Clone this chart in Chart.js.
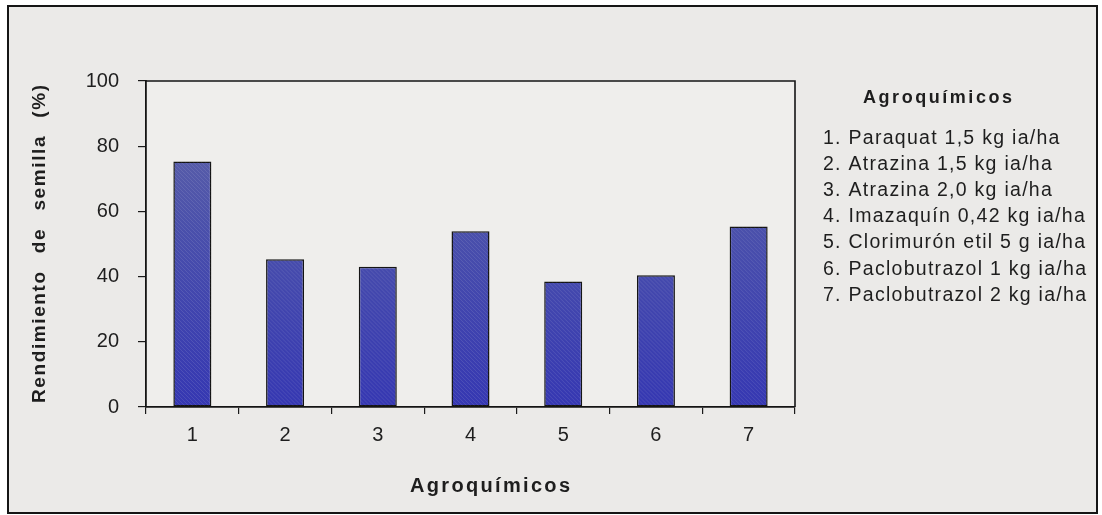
<!DOCTYPE html>
<html>
<head>
<meta charset="utf-8">
<script src="https://cdn.jsdelivr.net/npm/chart.js@4"></script>
<style>
  html, body { margin: 0; padding: 0; background: #ffffff; }
  #wrap { width: 1102px; height: 515px; position: relative; }
</style>
</head>
<body>
<div id="wrap"><canvas id="c" width="1102" height="515"></canvas></div>
<script>
// Seed yield per agrochemical treatment
const categories = ['1', '2', '3', '4', '5', '6', '7'];
const rendimiento = [75.3, 45.3, 43.0, 53.9, 38.5, 40.4, 55.4];
const yTickStep = 20;
const yMin = 0;
const yMax = 100;

const xTitle = 'Agroquímicos';
const yTitle = 'Rendimiento de semilla (%)';
const legendTitle = 'Agroquímicos';
const treatments = [
  '1. Paraquat 1,5 kg ia/ha',
  '2. Atrazina 1,5 kg ia/ha',
  '3. Atrazina 2,0 kg ia/ha',
  '4. Imazaquín 0,42 kg ia/ha',
  '5. Clorimurón etil 5 g ia/ha',
  '6. Paclobutrazol 1 kg ia/ha',
  '7. Paclobutrazol 2 kg ia/ha'
];

const FONT = 'Arial, "Liberation Sans", sans-serif';
const INK = '#1e1e1e';

// Draw text stretched (letter spacing, then word spacing) to span a given width
function spacedText(ctx, text, x, y, font, width, align, letterSp) {
  ctx.save();
  ctx.font = font;
  ctx.letterSpacing = '0px';
  ctx.wordSpacing = '0px';
  const w = ctx.measureText(text).width;
  const n = text.length - 1;
  if (letterSp === undefined) {
    ctx.letterSpacing = Math.max(0, (width - w) / n) + 'px';
  } else {
    const spaces = (text.match(/ /g) || []).length;
    ctx.letterSpacing = letterSp + 'px';
    const rest = width - w - letterSp * n;
    ctx.wordSpacing = Math.max(0, rest / Math.max(1, spaces)) + 'px';
  }
  ctx.textAlign = 'left';
  ctx.textBaseline = 'alphabetic';
  ctx.fillStyle = INK;
  const x0 = align === 'center' ? x - width / 2 : x;
  ctx.fillText(text, x0, y);
  ctx.restore();
}

const framePlugin = {
  id: 'frame',
  beforeDraw(chart) {
    const ctx = chart.ctx;
    const a = chart.chartArea;
    ctx.save();
    ctx.fillStyle = '#ffffff';
    ctx.fillRect(0, 0, chart.width, chart.height);
    ctx.fillStyle = '#ebeae8';
    ctx.fillRect(8, 6, 1089, 507);
    ctx.fillStyle = '#efeeec';
    ctx.fillRect(a.left, a.top, a.right - a.left, a.bottom - a.top);
    ctx.restore();
  },
  afterDatasetsDraw(chart) {
    // faint diagonal hatching over each bar
    const ctx = chart.ctx;
    const meta = chart.getDatasetMeta(0);
    ctx.save();
    meta.data.forEach(bar => {
      const left = bar.x - bar.width / 2;
      const top = Math.min(bar.y, bar.base);
      const h = Math.abs(bar.base - bar.y);
      ctx.save();
      ctx.beginPath();
      ctx.rect(left + 1, top + 1, bar.width - 2, h - 2);
      ctx.clip();
      ctx.strokeStyle = 'rgba(190,195,225,0.16)';
      ctx.lineWidth = 1;
      for (let k = -h; k < bar.width + h; k += 4) {
        ctx.beginPath();
        ctx.moveTo(left + k, top);
        ctx.lineTo(left + k + h, top + h);
        ctx.stroke();
      }
      ctx.restore();
    });
    ctx.restore();
  },
  afterDraw(chart) {
    const ctx = chart.ctx;
    const a = chart.chartArea;
    ctx.save();
    // outer frame
    ctx.strokeStyle = '#151515';
    ctx.lineWidth = 2;
    ctx.strokeRect(8, 6, 1089, 507);
    // top and right edges of the plot box
    ctx.lineWidth = 1.6;
    ctx.beginPath();
    ctx.moveTo(a.left, a.top);
    ctx.lineTo(a.right, a.top);
    ctx.lineTo(a.right, a.bottom);
    ctx.stroke();
    ctx.restore();

    // axis titles
    spacedText(ctx, xTitle, 490, 492, 'bold 20px ' + FONT, 160, 'center');
    ctx.save();
    ctx.translate(45, 244);
    ctx.rotate(-Math.PI / 2);
    spacedText(ctx, yTitle, 0, 0, 'bold 19px ' + FONT, 318, 'center', 1.6);
    ctx.restore();

    // treatment key
    spacedText(ctx, legendTitle, 863, 103, 'bold 18px ' + FONT, 149, 'left');
    ctx.save();
    ctx.font = '19.5px ' + FONT;
    ctx.letterSpacing = '0px';
    const wRef = ctx.measureText(treatments[6]).width;
    const ls = (263 - wRef) / (treatments[6].length - 1);
    ctx.letterSpacing = ls + 'px';
    ctx.fillStyle = INK;
    ctx.textBaseline = 'alphabetic';
    treatments.forEach((t, i) => {
      ctx.fillText(t, 823, 144 + i * 26.1);
    });
    ctx.restore();
  }
};

const ctx = document.getElementById('c').getContext('2d');
new Chart(ctx, {
  type: 'bar',
  data: {
    labels: categories,
    datasets: [{
      data: rendimiento,
      backgroundColor(context) {
        const area = context.chart.chartArea;
        if (!area) return '#4a4fa8';
        const g = context.chart.ctx.createLinearGradient(0, area.top, 0, area.bottom);
        g.addColorStop(0, '#6569a6');
        g.addColorStop(0.45, '#4a50ab');
        g.addColorStop(1, '#3537b2');
        return g;
      },
      borderColor: '#141414',
      borderWidth: 1.5,
      borderSkipped: false,
      barPercentage: 0.41,
      categoryPercentage: 1.0
    }]
  },
  options: {
    responsive: false,
    animation: false,
    devicePixelRatio: 1,
    layout: { padding: { left: 0, top: 81, right: 307, bottom: 0 } },
    plugins: {
      legend: { display: false },
      tooltip: { enabled: false }
    },
    scales: {
      x: {
        type: 'category',
        offset: true,
        grid: {
          offset: true,
          drawOnChartArea: false,
          drawTicks: true,
          tickLength: 7,
          color: '#1a1a1a',
          lineWidth: 1.2
        },
        border: { display: true, color: '#141414', width: 1.8 },
        ticks: {
          color: INK,
          font: { family: FONT, size: 20 },
          padding: 9,
          maxRotation: 0
        },
        afterFit(scale) { scale.height = 108; }
      },
      y: {
        min: yMin,
        max: yMax,
        grid: {
          drawOnChartArea: false,
          drawTicks: true,
          tickLength: 8,
          color: '#1a1a1a',
          lineWidth: 1.2
        },
        border: { display: true, color: '#141414', width: 1.8 },
        ticks: {
          stepSize: yTickStep,
          color: INK,
          font: { family: FONT, size: 20 },
          padding: 19
        },
        afterFit(scale) { scale.width = 146; }
      }
    }
  },
  plugins: [framePlugin]
});
</script>
</body>
</html>
